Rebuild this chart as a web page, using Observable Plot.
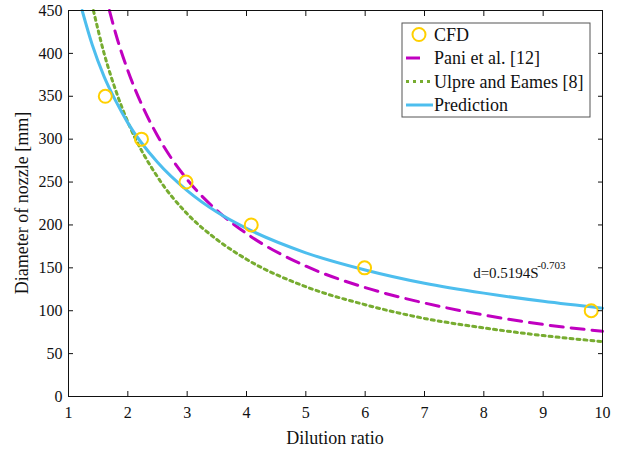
<!DOCTYPE html>
<html>
<head>
<meta charset="utf-8">
<script src="https://cdn.jsdelivr.net/npm/d3@7"></script>
<script src="https://cdn.jsdelivr.net/npm/@observablehq/plot@0.6"></script>
<style>
  html, body { margin: 0; padding: 0; background: #fff; font-family: 'Liberation Serif', serif; }
  #chart { width: 620px; height: 452px; position: relative; }
</style>
</head>
<body>
<div id="chart"></div>
<script>
// CFD points
const cfdX = [1.62, 2.23, 2.98, 4.08, 5.99, 9.81];
const cfdY = [350, 300, 250, 200, 150, 100];

// Pani et al. [12]
const paniX = [1.69, 1.8, 2, 2.25, 2.5, 3, 3.5, 4, 5, 6, 7, 8, 9, 10];
const paniY = [450, 422, 380, 338, 304, 253, 217, 190, 152, 127, 109, 95, 84, 76];

// Ulpre and Eames [8]
const ulpreX = [1.42, 1.6, 1.8, 2, 2.5, 3, 3.5, 4, 5, 6, 7, 8, 9, 10];
const ulpreY = [450, 400, 356, 320, 256, 213, 183, 160, 128, 107, 91, 80, 71, 64];

// Prediction
const predX = [1.23, 1.4, 1.6, 1.8, 2, 2.5, 3, 3.5, 4, 5, 6, 7, 8, 9, 10];
const predY = [450, 410, 373, 344, 319, 273, 240, 215, 196, 167.5, 147.5, 132, 120.5, 111, 103];

const xTicks = [1, 2, 3, 4, 5, 6, 7, 8, 9, 10];
const yTicks = [0, 50, 100, 150, 200, 250, 300, 350, 400, 450];

const legendLabels = ["CFD", "Pani et al. [12]", "Ulpre and Eames [8]", "Prediction"];
const annotation = {x: 7.82, y: 144, text: "d=0.5194S", sup: "-0.703"};

const toRows = (xs, ys) => xs.map((x, i) => ({x, y: ys[i]}));

const C_CFD = "#FFD000", C_PANI = "#C000C0", C_ULPRE = "#77AC30", C_PRED = "#4DBEEE";
const FONT = "'Liberation Serif', serif";
const FONT_ATTR = "Liberation Serif";

const noLabel = () => "";

const plot = Plot.plot({
  width: 620,
  height: 452,
  marginLeft: 68,
  marginRight: 18,
  marginTop: 10,
  marginBottom: 56,
  x: {domain: [1, 10], label: null},
  y: {domain: [0, 450], label: null},
  marks: [
    Plot.line(toRows(ulpreX, ulpreY), {x: "x", y: "y", curve: "monotone-x", stroke: C_ULPRE, strokeWidth: 3, strokeDasharray: "3,4"}),
    Plot.line(toRows(paniX, paniY), {x: "x", y: "y", curve: "monotone-x", stroke: C_PANI, strokeWidth: 3, strokeDasharray: "13,8"}),
    Plot.line(toRows(predX, predY), {x: "x", y: "y", curve: "monotone-x", stroke: C_PRED, strokeWidth: 3}),
    Plot.dot(toRows(cfdX, cfdY), {x: "x", y: "y", r: 6.5, stroke: C_CFD, strokeWidth: 2, fill: "none"}),
    Plot.text([annotation], {x: "x", y: "y", text: "text", textAnchor: "start", fontSize: 15, fontFamily: FONT_ATTR, fill: "#111"}),
    Plot.text([annotation], {x: "x", y: "y", text: "sup", textAnchor: "start", fontSize: 11, fontFamily: FONT_ATTR, dx: 64, dy: -8, fill: "#111"}),
    Plot.frame({stroke: "#111", strokeWidth: 1}),
    Plot.axisX({ticks: xTicks, tickSize: 0, tickPadding: 10, tickFormat: d => d, fontSize: 16, fontFamily: FONT_ATTR, fill: "#111"}),
    Plot.axisX({ticks: xTicks, tickSize: -5, tickFormat: noLabel, stroke: "#111"}),
    Plot.axisX({ticks: xTicks, anchor: "top", tickSize: -5, tickFormat: noLabel, stroke: "#111"}),
    Plot.axisY({ticks: yTicks, tickSize: 0, tickPadding: 6, tickFormat: d => d, fontSize: 16, fontFamily: FONT_ATTR, fill: "#111"}),
    Plot.axisY({ticks: yTicks, tickSize: -5, tickFormat: noLabel, stroke: "#111"}),
    Plot.axisY({ticks: yTicks, anchor: "right", tickSize: -5, tickFormat: noLabel, stroke: "#111"})
  ]
});

const svg = d3.select(plot);
svg.attr("font-family", FONT_ATTR);

// axis titles
svg.append("text")
  .attr("x", 335).attr("y", 444)
  .attr("text-anchor", "middle")
  .attr("font-size", 18).attr("fill", "#111")
  .text("Dilution ratio");
svg.append("text")
  .attr("transform", "translate(24,203) rotate(-90)")
  .attr("text-anchor", "middle")
  .attr("dominant-baseline", "middle")
  .attr("font-size", 18).attr("fill", "#111")
  .text("Diameter of nozzle [mm]");

// legend
const lg = svg.append("g").attr("transform", "translate(402,23)");
lg.append("rect").attr("width", 188).attr("height", 94).attr("fill", "#fff").attr("stroke", "#555").attr("stroke-width", 1);
const rowY = [11.5, 35, 58.5, 82];
lg.append("circle").attr("cx", 17).attr("cy", rowY[0]).attr("r", 6.5).attr("fill", "none").attr("stroke", C_CFD).attr("stroke-width", 2);
lg.append("line").attr("x1", 4).attr("x2", 18).attr("y1", rowY[1]).attr("y2", rowY[1]).attr("stroke", C_PANI).attr("stroke-width", 3);
lg.append("line").attr("x1", 4).attr("x2", 31).attr("y1", rowY[2]).attr("y2", rowY[2]).attr("stroke", C_ULPRE).attr("stroke-width", 3).attr("stroke-dasharray", "3,4");
lg.append("line").attr("x1", 4).attr("x2", 31).attr("y1", rowY[3]).attr("y2", rowY[3]).attr("stroke", C_PRED).attr("stroke-width", 3);
legendLabels.forEach((t, i) => {
  lg.append("text").attr("x", 32).attr("y", rowY[i]).attr("dominant-baseline", "central")
    .attr("text-anchor", "start")
    .attr("font-size", 18).attr("fill", "#111").text(t);
});

svg.selectAll("text")
  .attr("font-family", FONT_ATTR)
  .style("font-family", FONT, "important");

document.getElementById("chart").appendChild(plot);
</script>
</body>
</html>
